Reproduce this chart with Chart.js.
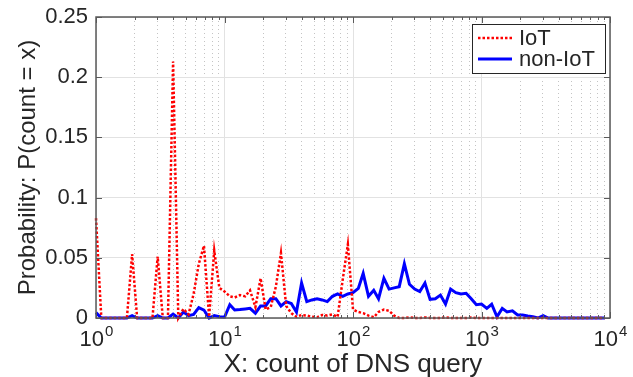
<!DOCTYPE html>
<html>
<head>
<meta charset="utf-8">
<script src="https://cdn.jsdelivr.net/npm/chart.js@4.4.0/dist/chart.umd.min.js"></script>
<style>
  html, body { margin: 0; padding: 0; background: #fff; }
  #wrap { width: 633px; height: 377px; }
</style>
</head>
<body>
<div id="wrap"><canvas id="dnsChart" width="633" height="377"></canvas></div>
<script>
// log-spaced bins of query counts (x) and the probability in each bin
const binX = [
  1, 1.1, 1.2, 1.32, 1.45, 1.58, 1.74, 1.91, 2.09, 2.29,
  2.51, 2.75, 3.02, 3.31, 3.63, 3.98, 4.37, 4.79, 5.25, 5.75,
  6.31, 6.92, 7.59, 8.32, 9.12, 10, 11, 12, 13.2, 14.5,
  15.8, 17.4, 19.1, 20.9, 22.9, 25.1, 27.5, 30.2, 33.1, 36.3,
  39.8, 43.7, 47.9, 52.5, 57.5, 63.1, 69.2, 75.9, 83.2, 91.2,
  100, 110, 120, 132, 145, 158, 174, 191, 209, 229,
  251, 275, 302, 331, 363, 398, 437, 479, 525, 575,
  631, 692, 759, 832, 912, 1000, 1100, 1200, 1320, 1450,
  1580, 1740, 1910, 2090, 2290, 2510, 2750, 3020, 3310, 3630,
  3980, 4370, 4790, 5250, 5750, 6310, 6920, 7590, 8320, 9120
];
const iotProb = [
  0.083, 0, 0, 0, 0, 0, 0, 0.053, 0, 0,
  0, 0, 0.051, 0, 0, 0.213, 0, 0.0075, 0.003, 0.02,
  0.045, 0.06, 0.001, 0.056, 0.025, 0.022, 0.018, 0.017, 0.019, 0.018,
  0.023, 0.009, 0.033, 0.007, 0.009, 0.026, 0.054, 0.01, 0.004, 0.001,
  0.0025, 0.002, 0.001, 0.0006, 0.0025, 0.002, 0.003, 0.001, 0.032, 0.061,
  0.007, 0.005, 0.004, 0.002, 0.0006, 0.005, 0.007, 0.006, 0.002, 0,
  0, 0.0005, 0, 0, 0.0005, 0, 0, 0, 0.0005, 0,
  0, 0, 0, 0.0005, 0, 0, 0, 0, 0, 0,
  0, 0, 0, 0, 0, 0, 0, 0, 0, 0,
  0, 0, 0, 0, 0, 0, 0, 0, 0, 0
];
const nonIotProb = [
  0.0045, 0, 0, 0, 0, 0, 0, 0.002, 0, 0,
  0, 0, 0.002, 0, 0, 0.0033, 0, 0.005, 0.002, 0.003,
  0.0086, 0.0066, 0, 0.002, 0.001, 0.0006, 0.011, 0.0066, 0.007, 0.0075,
  0.008, 0.004, 0.01, 0.01, 0.016, 0.016, 0.01, 0.0136, 0.012, 0.005,
  0.029, 0.0136, 0.015, 0.016, 0.015, 0.0136, 0.018, 0.02, 0.018, 0.02,
  0.021, 0.0246, 0.037, 0.018, 0.023, 0.016, 0.033, 0.024, 0.025, 0.026,
  0.045, 0.028, 0.024, 0.022, 0.029, 0.0155, 0.016, 0.019, 0.0116, 0.024,
  0.021, 0.02, 0.0205, 0.016, 0.011, 0.0116, 0.008, 0.0114, 0.001, 0.008,
  0.005, 0.006, 0.0025, 0.0025, 0.0017, 0.001, 0, 0.002, 0, 0,
  0, 0, 0, 0, 0, 0, 0, 0, 0, 0
];
const seriesNames = ['IoT', 'non-IoT'];
const yTickValues = [0, 0.05, 0.1, 0.15, 0.2, 0.25];
const yTickLabels = ['0', '0.05', '0.1', '0.15', '0.2', '0.25'];
const decadeTicks = [1, 10, 100, 1000, 10000];
const decadeExponents = ['0', '1', '2', '3', '4'];
const minorSteps = [2, 3, 4, 5, 6, 7, 8, 9];

const FONT = "'Liberation Sans', Arial, sans-serif";
const TEXT = '#262626';
const AXIS = '#5a5a5a';

const toPoints = ys => binX.map((x, i) => ({ x: x, y: ys[i] }));
const isDecade = v => decadeTicks.includes(v);

// every decade plus 2..9 inside it, for the minor grid
const gridTicks = [];
decadeTicks.forEach((d, i) => {
  gridTicks.push(d);
  if (i < decadeTicks.length - 1) minorSteps.forEach(m => gridTicks.push(m * d));
});

const framePlugin = {
  id: 'frame',
  afterDatasetsDraw(chart) {
    const { ctx, chartArea: a, scales: { x, y } } = chart;
    ctx.save();
    ctx.strokeStyle = AXIS;
    ctx.lineWidth = 1;
    ctx.beginPath();
    gridTicks.forEach(v => {
      const px = Math.round(x.getPixelForValue(v)) + 0.5;
      const len = isDecade(v) ? 6 : 3;
      ctx.moveTo(px, a.bottom); ctx.lineTo(px, a.bottom - len);
      ctx.moveTo(px, a.top); ctx.lineTo(px, a.top + len);
    });
    yTickValues.forEach(v => {
      const py = Math.round(y.getPixelForValue(v)) + 0.5;
      ctx.moveTo(a.left, py); ctx.lineTo(a.left + 6, py);
      ctx.moveTo(a.right, py); ctx.lineTo(a.right - 6, py);
    });
    ctx.stroke();
    ctx.lineWidth = 1.5;
    ctx.strokeRect(a.left, a.top, a.right - a.left, a.bottom - a.top);

    // x tick labels as 10 with a raised exponent
    ctx.fillStyle = TEXT;
    ctx.textAlign = 'left';
    ctx.textBaseline = 'alphabetic';
    decadeTicks.forEach((v, i) => {
      const px = x.getPixelForValue(v);
      ctx.font = '22px ' + FONT;
      const w1 = ctx.measureText('10').width;
      ctx.font = '15px ' + FONT;
      const w2 = ctx.measureText(decadeExponents[i]).width;
      const start = px - (w1 + w2) / 2;
      ctx.font = '22px ' + FONT;
      ctx.fillText('10', start, a.bottom + 28);
      ctx.font = '15px ' + FONT;
      ctx.fillText(decadeExponents[i], start + w1 + 1, a.bottom + 18);
    });
    ctx.restore();
  },
  afterDraw(chart) {
    // legend box in the upper right corner
    const { ctx, chartArea: a } = chart;
    const box = { left: a.right - 138, top: a.top + 7, w: 133, h: 49 };
    ctx.save();
    ctx.fillStyle = '#fff';
    ctx.fillRect(box.left, box.top, box.w, box.h);
    ctx.strokeStyle = '#262626';
    ctx.lineWidth = 1;
    ctx.strokeRect(box.left + 0.5, box.top + 0.5, box.w, box.h);
    chart.data.datasets.forEach((ds, i) => {
      const yy = box.top + 14 + i * 21;
      ctx.strokeStyle = ds.borderColor;
      ctx.lineWidth = ds.borderWidth;
      ctx.setLineDash(ds.borderDash || []);
      ctx.beginPath();
      ctx.moveTo(box.left + 6, yy);
      ctx.lineTo(box.left + 40, yy);
      ctx.stroke();
      ctx.setLineDash([]);
      ctx.fillStyle = TEXT;
      ctx.font = '22px ' + FONT;
      ctx.textBaseline = 'middle';
      ctx.fillText(ds.label, box.left + 47, yy + 1);
    });
    ctx.restore();
  }
};

new Chart(document.getElementById('dnsChart'), {
  type: 'line',
  data: {
    datasets: [
      {
        label: seriesNames[0],
        data: toPoints(iotProb),
        borderColor: '#ff0000',
        borderWidth: 2.5,
        borderDash: [2.5, 2],
        pointRadius: 0,
        tension: 0,
        clip: false
      },
      {
        label: seriesNames[1],
        data: toPoints(nonIotProb),
        borderColor: '#0000ff',
        borderWidth: 3,
        pointRadius: 0,
        tension: 0,
        clip: false
      }
    ]
  },
  options: {
    responsive: false,
    animation: false,
    parsing: false,
    layout: { padding: { top: 17, right: 23, left: 0, bottom: 0 } },
    plugins: {
      legend: { display: false },
      tooltip: { enabled: false }
    },
    scales: {
      x: {
        type: 'logarithmic',
        min: 1,
        max: 10000,
        afterBuildTicks: s => { s.ticks = gridTicks.map(v => ({ value: v })); },
        afterFit: s => { s.height = 59; },
        ticks: { display: false },
        grid: {
          color: c => (c.tick && !isDecade(c.tick.value)) ? '#c4c4c4' : '#e2e2e2',
          lineWidth: 1,
          drawTicks: false
        },
        border: {
          display: false,
          dash: c => (c.tick && !isDecade(c.tick.value)) ? [1, 3] : []
        },
        title: {
          display: true,
          text: 'X: count of DNS query',
          color: TEXT,
          font: { family: FONT, size: 26 },
          padding: { top: 0, bottom: -3 }
        }
      },
      y: {
        min: 0,
        max: 0.25,
        afterBuildTicks: s => { s.ticks = yTickValues.map(v => ({ value: v })); },
        afterFit: s => {
          s.width = 96;
          s.paddingTop = 4;
          s.paddingBottom = 4;
        },
        ticks: {
          callback: (v, i) => yTickLabels[i],
          padding: 8,
          color: TEXT,
          font: { family: FONT, size: 22 }
        },
        grid: { color: '#e2e2e2', lineWidth: 1, drawTicks: false },
        border: { display: false },
        title: {
          display: true,
          text: 'Probability: P(count = x)',
          color: TEXT,
          font: { family: FONT, size: 24 },
          padding: { top: 14, bottom: 0 }
        }
      }
    }
  },
  plugins: [framePlugin]
});
</script>
</body>
</html>
